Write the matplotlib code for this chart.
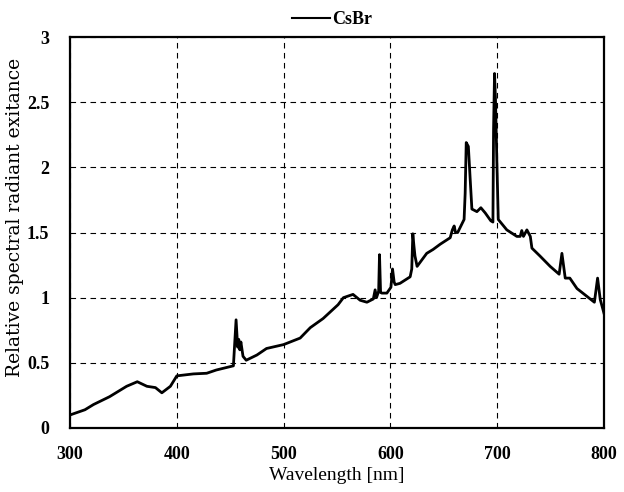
import matplotlib
matplotlib.use("Agg")
import matplotlib.pyplot as plt
from matplotlib.lines import Line2D

# CsBr lamp: relative spectral radiant exitance vs wavelength
wavelength = [300, 314, 322, 337, 353, 363, 372, 380, 386, 394, 400, 415.5, 428, 437,
              453, 455.5, 457, 458, 459, 460, 462, 465, 475, 484, 500, 515.5, 525,
              537, 551, 556, 565, 571.7, 578, 584, 585.7, 587, 589, 589.8, 590.8,
              592, 596.7, 600.5, 602, 603.5, 604.5, 609, 618.5, 620, 621, 622, 623,
              625, 634, 640, 646.6, 656, 658, 659.7, 661, 663, 669, 670, 671, 673,
              674.7, 676.3, 681, 684.7, 688.8, 694, 696, 696.6, 697.5, 698.4, 699.7,
              701, 709, 718.4, 721.5, 723, 724.6, 727.8, 731, 732.5, 740, 749.6, 758,
              760.6, 763.7, 768, 774.7, 784, 791, 794, 796.5, 799, 800]
exitance = [0.10, 0.14, 0.18, 0.24, 0.32, 0.355, 0.32, 0.31, 0.27, 0.32, 0.40, 0.415,
            0.42, 0.445, 0.477, 0.83, 0.62, 0.68, 0.60, 0.66, 0.55, 0.52, 0.56, 0.61,
            0.64, 0.69, 0.77, 0.84, 0.946, 1.0, 1.025, 0.98, 0.965, 0.99, 1.06, 1.00,
            1.05, 1.33, 1.04, 1.035, 1.035, 1.08, 1.22, 1.12, 1.10, 1.11, 1.16, 1.22,
            1.49, 1.40, 1.32, 1.24, 1.34, 1.37, 1.41, 1.46, 1.52, 1.55, 1.50, 1.50,
            1.60, 1.80, 2.19, 2.16, 1.91, 1.68, 1.66, 1.69, 1.65, 1.59, 1.58, 2.29,
            2.72, 2.52, 2.04, 1.60, 1.52, 1.47, 1.47, 1.515, 1.47, 1.52, 1.47, 1.38,
            1.32, 1.24, 1.18, 1.34, 1.15, 1.15, 1.07, 1.01, 0.965, 1.15, 0.985, 0.91,
            0.88]

x_ticks = [300, 400, 500, 600, 700, 800]
y_ticks = [0, 0.5, 1, 1.5, 2, 2.5, 3]
y_tick_labels = ["0", "0.5", "1", "1.5", "2", "2.5", "3"]

serif = ["Liberation Serif", "DejaVu Serif"]
plt.rcParams["font.family"] = serif

fig = plt.figure(figsize=(6.24, 4.92), dpi=100)
ax = fig.add_axes([70 / 624, 64 / 492, 534 / 624, 391 / 492])

ax.plot(wavelength, exitance, color="black", linewidth=2.0, label="CsBr",
        solid_joinstyle="round")

ax.set_xlim(300, 800)
ax.set_ylim(0, 3)
ax.set_xticks(x_ticks)
ax.set_yticks(y_ticks)
ax.set_yticklabels(y_tick_labels)
ax.tick_params(length=0, labelsize=13)
for lbl in ax.get_xticklabels() + ax.get_yticklabels():
    lbl.set_fontweight("bold")
ax.tick_params(axis="x", pad=13)
ax.tick_params(axis="y", pad=15)

ax.grid(True, color="black", linestyle=(0, (5, 4)), linewidth=0.8)
for sp in ax.spines.values():
    sp.set_linewidth(1.6)

ax.set_xlabel("Wavelength [nm]", fontsize=14, labelpad=3)
fig.text(15 / 624, 1 - 217 / 492, "Relative spectral radiant exitance",
         rotation=90, ha="center", va="center", fontsize=13.5,
         family=["DejaVu Serif"])

# legend above the plot area
fig.legend(handles=[Line2D([], [], color="black", linewidth=1.5)], labels=["CsBr"],
           loc="center", bbox_to_anchor=(332 / 624, 1 - 20 / 492), frameon=False,
           handlelength=2.1, handletextpad=0.15, prop={"size": 13, "weight": "bold"})

fig.savefig("out.png", dpi=100)
